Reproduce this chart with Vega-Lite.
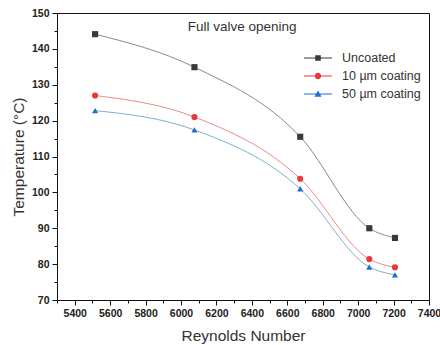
{
  "$schema": "https://vega.github.io/schema/vega-lite/v6.json",
  "width": 372,
  "height": 287,
  "padding": {"left": 11, "top": 8, "right": 0, "bottom": 0},
  "background": "white",
  "config": {
    "font": "Liberation Sans",
    "view": {"stroke": "#111", "strokeWidth": 1},
    "axis": {
      "grid": false,
      "domainColor": "#111",
      "tickColor": "#111",
      "labelFont": "Liberation Sans",
      "labelFontWeight": "bold",
      "labelFontSize": 10.5,
      "labelColor": "#222",
      "titleFont": "Liberation Sans",
      "titleFontWeight": "normal",
      "titleFontSize": 15.5,
      "titleColor": "#333",
      "labelPadding": 3
    }
  },
  "datasets": {
    "temps": [
      {"re": 5515, "temp": 144.1, "series": "Uncoated"},
      {"re": 6076, "temp": 134.9, "series": "Uncoated"},
      {"re": 6673, "temp": 115.5, "series": "Uncoated"},
      {"re": 7063, "temp": 90.0, "series": "Uncoated"},
      {"re": 7208, "temp": 87.3, "series": "Uncoated"},
      {"re": 5515, "temp": 127.0, "series": "10 µm coating"},
      {"re": 6076, "temp": 121.0, "series": "10 µm coating"},
      {"re": 6673, "temp": 103.8, "series": "10 µm coating"},
      {"re": 7063, "temp": 81.4, "series": "10 µm coating"},
      {"re": 7208, "temp": 79.1, "series": "10 µm coating"},
      {"re": 5515, "temp": 122.8, "series": "50 µm coating"},
      {"re": 6076, "temp": 117.4, "series": "50 µm coating"},
      {"re": 6673, "temp": 101.0, "series": "50 µm coating"},
      {"re": 7063, "temp": 79.2, "series": "50 µm coating"},
      {"re": 7208, "temp": 77.0, "series": "50 µm coating"}
    ]
  },
  "data": {"name": "temps"},
  "encoding": {
    "x": {
      "field": "re",
      "type": "quantitative",
      "title": "Reynolds Number",
      "scale": {"domain": [5300, 7400], "nice": false, "zero": false},
      "axis": {
        "values": [5300, 5400, 5500, 5600, 5700, 5800, 5900, 6000, 6100, 6200, 6300, 6400, 6500, 6600, 6700, 6800, 6900, 7000, 7100, 7200, 7300, 7400],
        "labelExpr": "datum.value % 200 === 0 ? datum.value : ''",
        "tickSize": {"condition": {"test": "datum.value % 200 === 0", "value": 5}, "value": 3},
        "labelFlush": false,
        "labelOverlap": false,
        "titlePadding": 10
      }
    },
    "y": {
      "field": "temp",
      "type": "quantitative",
      "title": "Temperature (°C)",
      "scale": {"domain": [70, 150], "nice": false, "zero": false},
      "axis": {
        "values": [70, 75, 80, 85, 90, 95, 100, 105, 110, 115, 120, 125, 130, 135, 140, 145, 150],
        "labelExpr": "datum.value % 10 === 0 ? datum.value : ''",
        "tickSize": {"condition": {"test": "datum.value % 10 === 0", "value": 5}, "value": 3},
        "labelOverlap": false,
        "titlePadding": 5
      }
    }
  },
  "layer": [
    {
      "mark": {"type": "line", "interpolate": "monotone", "strokeWidth": 1},
      "encoding": {
        "color": {
          "field": "series",
          "type": "nominal",
          "scale": {"domain": ["Uncoated", "10 µm coating", "50 µm coating"], "range": ["#8a8a8a", "#ec8a8a", "#7fb0cc"]},
          "legend": null
        },
        "detail": {"field": "series"}
      }
    },
    {
      "mark": {"type": "point", "filled": true, "opacity": 1, "size": 38},
      "encoding": {
        "color": {
          "field": "series",
          "type": "nominal",
          "scale": {"domain": ["Uncoated", "10 µm coating", "50 µm coating"], "range": ["#3a3a3a", "#e8383c", "#1f6fd0"]},
          "legend": null
        },
        "shape": {
          "field": "series",
          "type": "nominal",
          "scale": {"domain": ["Uncoated", "10 µm coating", "50 µm coating"], "range": ["square", "circle", "triangle-up"]},
          "legend": null
        }
      }
    },
    {
      "transform": [{"filter": "datum.re < 0"}],
      "mark": {"type": "point", "filled": true, "opacity": 1},
      "encoding": {
        "color": {
          "field": "series",
          "type": "nominal",
          "scale": {"domain": ["Uncoated", "10 µm coating", "50 µm coating"], "range": ["#3a3a3a", "#e8383c", "#1f6fd0"]},
          "legend": {
            "title": null,
            "orient": "none",
            "legendX": 246,
            "legendY": 36,
            "symbolSize": 784,
            "clipHeight": 18,
            "labelFontSize": 12.5,
            "labelFont": "Liberation Sans",
            "labelColor": "#333",
            "labelOffset": 9,
            "rowPadding": 0,
            "padding": 0
          }
        },
        "shape": {
          "field": "series",
          "type": "nominal",
          "scale": {
            "domain": ["Uncoated", "10 µm coating", "50 µm coating"],
            "range": [
              "M-1,-0.03H1V0.03H-1Z M-0.2,-0.2H0.2V0.2H-0.2Z",
              "M-1,-0.03H1V0.03H-1Z M0.23,0A0.23,0.23 0 1,1 -0.23,0A0.23,0.23 0 1,1 0.23,0Z",
              "M-1,-0.03H1V0.03H-1Z M0,-0.25L0.25,0.19H-0.25Z"
            ]
          },
          "legend": {
            "title": null,
            "orient": "none",
            "legendX": 246,
            "legendY": 36,
            "symbolSize": 784,
            "clipHeight": 18,
            "labelFontSize": 12.5,
            "labelFont": "Liberation Sans",
            "labelColor": "#333",
            "labelOffset": 9,
            "rowPadding": 0,
            "padding": 0
          }
        }
      }
    },
    {
      "transform": [{"filter": "datum.re === 5515 && datum.series === 'Uncoated'"}],
      "mark": {"type": "text", "fontSize": 13.5, "color": "#333", "font": "Liberation Sans"},
      "encoding": {
        "x": {"datum": 6345},
        "y": {"datum": 146},
        "text": {"value": "Full valve opening"}
      }
    }
  ],
  "resolve": {
    "scale": {"color": "independent", "shape": "independent"},
    "legend": {"color": "independent", "shape": "independent"}
  }
}
